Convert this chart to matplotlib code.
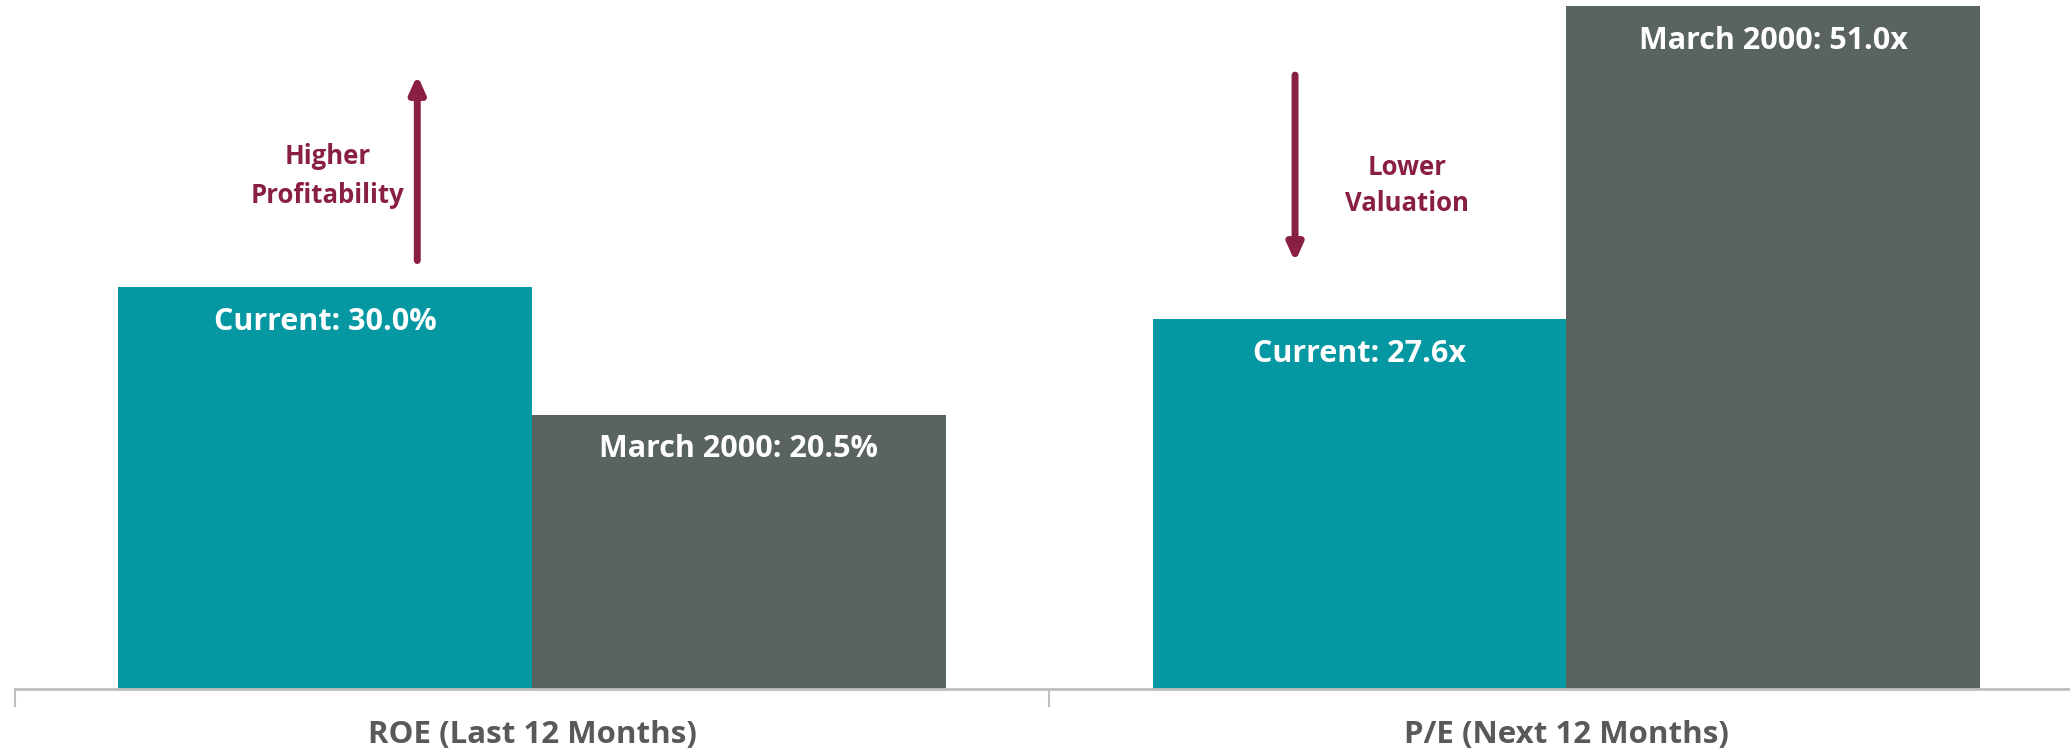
import matplotlib
matplotlib.use("Agg")
import matplotlib.pyplot as plt
import numpy as np

# Data
categories = ["ROE (Last 12 Months)", "P/E (Next 12 Months)"]
current = [30.0, 27.6]
march_2000 = [20.5, 51.0]
units = ["%", "x"]
series_names = ["Current", "March 2000"]

TEAL = "#0598A3"
GRAY = "#59635F"
MAROON = "#8A1F46"
AXIS_GRAY = "#BFBFBF"
LABEL_GRAY = "#595959"

plt.rcParams["font.family"] = ["Open Sans", "DejaVu Sans"]

fig = plt.figure(figsize=(20.7, 7.54), dpi=100)
ax = fig.add_axes([0.0072, 0.0862, 0.9994, 0.9138])

x = np.arange(len(categories))
w = 0.4
bars_cur = ax.bar(x - w / 2, current, width=w, color=TEAL, zorder=2)
bars_old = ax.bar(x + w / 2, march_2000, width=w, color=GRAY, zorder=2)

for bars, vals, name in [(bars_cur, current, series_names[0]),
                         (bars_old, march_2000, series_names[1])]:
    for b, v, u in zip(bars, vals, units):
        ax.annotate(f"{name}: {v:.1f}{u}",
                    xy=(b.get_x() + b.get_width() / 2, v),
                    xytext=(0, -25), textcoords="offset points",
                    ha="center", va="center", color="white",
                    fontsize=22, fontweight="bold", zorder=3)

ax.set_xlim(-0.5, 1.5)
ax.set_ylim(0, 51.46)

# Direction arrows with captions
arrow_kw = dict(arrowstyle="-|>,head_width=0.45,head_length=1.0",
                color=MAROON, lw=5, shrinkA=0, shrinkB=0)
ax.annotate("", xy=(-0.111, 45.85), xytext=(-0.111, 32.0), arrowprops=arrow_kw)
ax.text(-0.198, 38.3, "Higher\nProfitability", ha="center", va="center",
        color=MAROON, fontsize=18.5, fontweight="bold", linespacing=1.55)
ax.annotate("", xy=(0.7376, 31.9), xytext=(0.7376, 45.85), arrowprops=arrow_kw)
ax.text(0.846, 37.6, "Lower\nValuation", ha="center", va="center",
        color=MAROON, fontsize=18.5, fontweight="bold", linespacing=1.45)

# Axes styling
for side in ["top", "right", "left"]:
    ax.spines[side].set_visible(False)
ax.spines["bottom"].set_color(AXIS_GRAY)
ax.spines["bottom"].set_linewidth(2)
ax.spines["bottom"].set_zorder(4)
ax.set_yticks([])

ax.set_xticks([-0.5, 0.5, 1.5])
ax.set_xticklabels([])
ax.tick_params(axis="x", which="major", length=13, width=1.5, color=AXIS_GRAY,
               direction="out")
ax.set_xticks(x, minor=True)
ax.set_xticklabels(categories, minor=True)
ax.tick_params(axis="x", which="minor", length=0, pad=22, labelsize=22.5,
               labelcolor=LABEL_GRAY)
for lbl in ax.get_xticklabels(minor=True):
    lbl.set_fontweight("bold")

fig.savefig("out.png", dpi=100)
